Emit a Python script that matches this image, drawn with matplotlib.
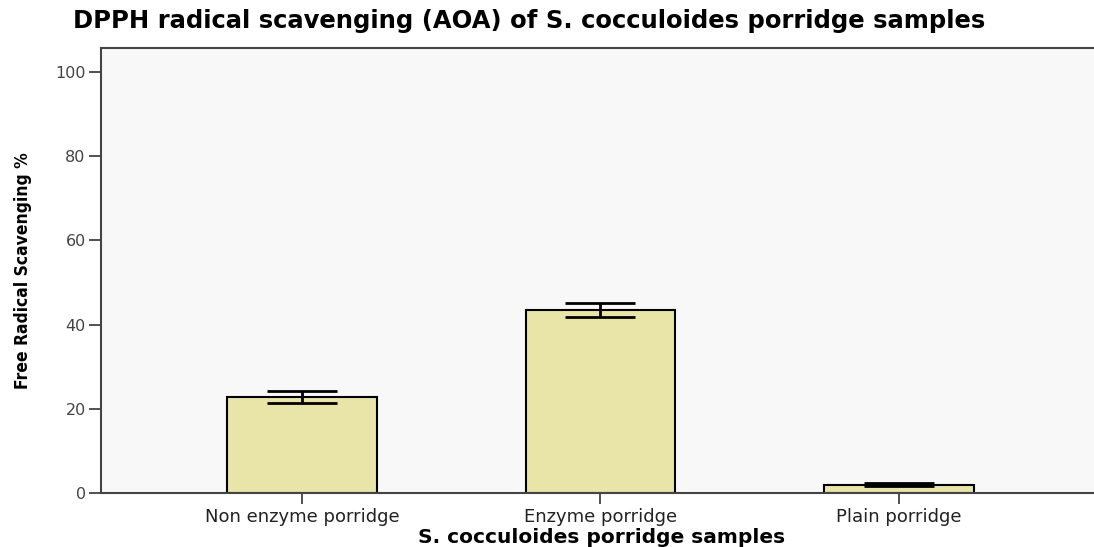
import numpy as np
import matplotlib
matplotlib.use("Agg")
import matplotlib.pyplot as plt

samples = ["Non enzyme porridge", "Enzyme porridge", "Plain porridge"]
scavenging = [22.8, 43.5, 2.0]
error = [1.5, 1.7, 0.4]
yticks = [0, 20, 40, 60, 80, 100]

fig = plt.figure(figsize=(10.94, 5.47), dpi=100)
ax = fig.add_axes([0.0923, 0.0987, 0.915, 0.8135])
ax.set_facecolor("#f8f8f8")

x = np.arange(len(samples))
ax.bar(x, scavenging, width=0.5, color="#e9e5a9", edgecolor="black",
       linewidth=1.5, zorder=2)
ax.errorbar(x, scavenging, yerr=error, fmt="none", ecolor="black",
            elinewidth=2, capsize=25.5, capthick=2, zorder=3)

ax.set_xlim(-0.673, 2.68)
ax.set_ylim(0, 105.7)
ax.set_xticks(x)
ax.set_xticklabels(samples, fontsize=13, color="#222222")
ax.set_yticks(yticks)
ax.set_yticklabels([str(t) for t in yticks], fontsize=11.5, color="#444444")
ax.tick_params(axis="y", length=9, width=1.2, color="#333333", pad=2)
ax.tick_params(axis="x", length=8, width=1.2, color="#333333", pad=3)

for side in ["left", "top", "bottom"]:
    ax.spines[side].set_linewidth(1.5)
    ax.spines[side].set_color("#444444")
ax.spines["right"].set_visible(False)

ax.set_xlabel("S. cocculoides porridge samples", fontsize=14.5,
              fontweight="bold", labelpad=1)
ax.set_ylabel("Free Radical Scavenging %", fontsize=12.5, fontweight="bold",
              fontstretch="condensed", labelpad=17)
fig.text(0.067, 0.962, "DPPH radical scavenging (AOA) of S. cocculoides porridge samples",
         fontsize=17.5, fontweight="bold", va="center")

fig.savefig("out.png", dpi=100)
